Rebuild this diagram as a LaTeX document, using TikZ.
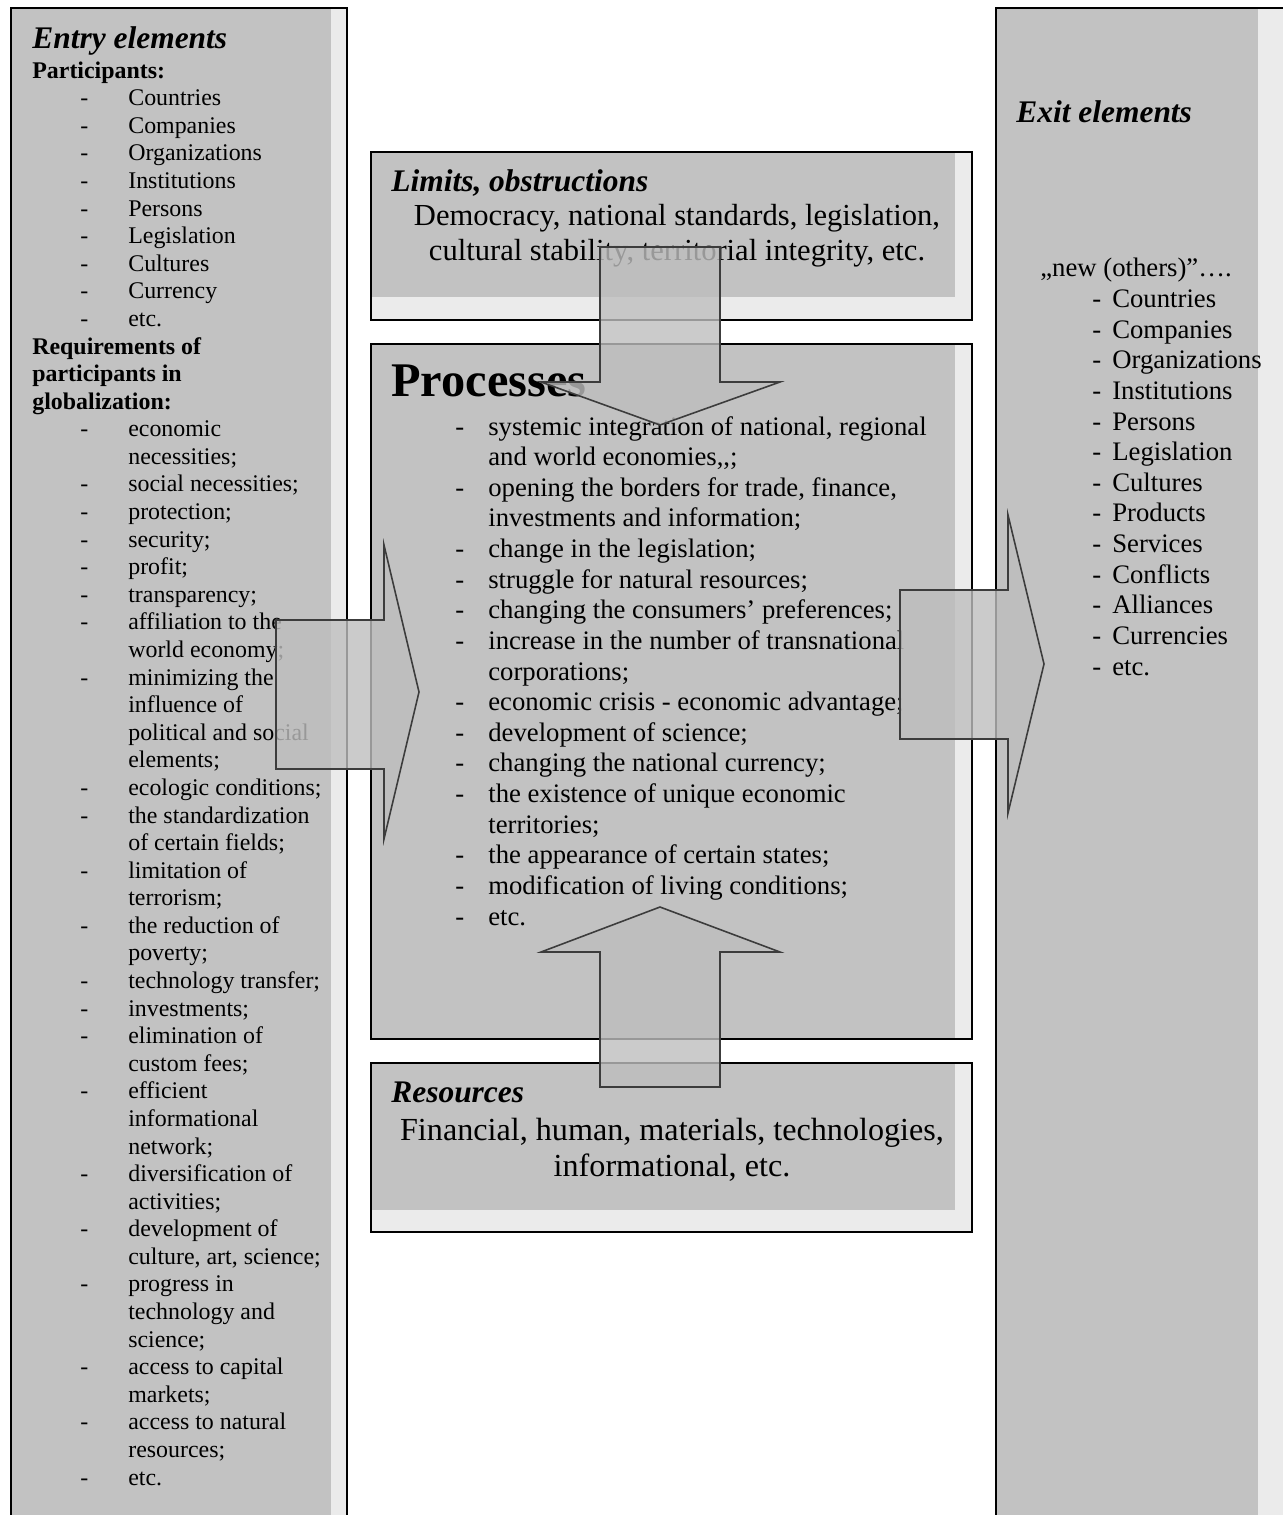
\documentclass[tikz,border=0pt]{standalone}
\usepackage{fontspec}
\setmainfont{Liberation Serif}

\definecolor{panelgray}{HTML}{C2C2C2}
\definecolor{stripgray}{HTML}{EBEBEB}
\definecolor{arrowgray}{HTML}{BEBEBE}
\definecolor{edgegray}{HTML}{3C3C3C}

% list lines: dash + text, and continuation lines
\newcommand{\entryitem}[1]{\hspace*{0.96cm}\makebox[0.96cm][l]{-}#1}
\newcommand{\entrymore}[1]{\hspace*{1.92cm}#1}
\newcommand{\exititem}[1]{\hspace*{1.04cm}\makebox[0.4cm][l]{-}#1}
\newcommand{\procitem}[1]{\makebox[0.66cm][l]{-}#1}
\newcommand{\procmore}[1]{\hspace*{0.66cm}#1}

\begin{document}
\begin{tikzpicture}[x=0.02cm, y=-0.02cm,
    panel/.style={fill=panelgray},
    strip/.style={fill=stripgray},
    frame/.style={draw=black, line width=1.1pt},
    blockarrow/.style={draw=edgegray, line width=0.9pt, fill=arrowgray, fill opacity=0.8, line join=miter},
    title/.style={anchor=base west, inner sep=0pt, font=\fontsize{17.9}{20}\selectfont\bfseries\itshape},
    smalllist/.style={anchor=base west, inner sep=0pt, align=left, font=\fontsize{13.6}{15.7}\selectfont},
    biglist/.style={anchor=base west, inner sep=0pt, align=left, font=\fontsize{15.2}{17.43}\selectfont},
    desc/.style={anchor=base, inner sep=0pt, align=center, font=\fontsize{17.4}{19.6}\selectfont}
]
    \useasboundingbox (0,0) rectangle (1283,1515);

    % Entry column
    \fill[panel] (11,8) rectangle (331,1540);
    \fill[strip] (331,8) rectangle (347,1540);
    \draw[frame] (11,1540) -- (11,8) -- (347,8) -- (347,1540);

    % Exit column
    \fill[panel] (996,8) rectangle (1258,1540);
    \fill[strip] (1258,8) rectangle (1300,1540);
    \draw[frame] (996,1540) -- (996,8) -- (1300,8);

    % Middle boxes
    \fill[strip] (371,152) rectangle (972,320);
    \fill[panel] (371,152) rectangle (955,297);
    \draw[frame] (371,152) rectangle (972,320);

    \fill[strip] (371,344) rectangle (972,1039);
    \fill[panel] (371,344) rectangle (955,1039);
    \draw[frame] (371,344) rectangle (972,1039);

    \fill[strip] (371,1063) rectangle (972,1232);
    \fill[panel] (371,1063) rectangle (955,1210);
    \draw[frame] (371,1063) rectangle (972,1232);

    % Entry texts (multi-line nodes sit on their last baseline)
    \node[title] (entrytitle) at (32,48) {Entry elements};
    \node[smalllist] (entrylist) at (32,1485) {\textbf{Participants:}\\
        \entryitem{Countries}\\
        \entryitem{Companies}\\
        \entryitem{Organizations}\\
        \entryitem{Institutions}\\
        \entryitem{Persons}\\
        \entryitem{Legislation}\\
        \entryitem{Cultures}\\
        \entryitem{Currency}\\
        \entryitem{etc.}\\
        \textbf{Requirements of}\\
        \textbf{participants in}\\
        \textbf{globalization:}\\
        \entryitem{economic}\\
        \entrymore{necessities;}\\
        \entryitem{social necessities;}\\
        \entryitem{protection;}\\
        \entryitem{security;}\\
        \entryitem{profit;}\\
        \entryitem{transparency;}\\
        \entryitem{affiliation to the}\\
        \entrymore{world economy;}\\
        \entryitem{minimizing the}\\
        \entrymore{influence of}\\
        \entrymore{political and social}\\
        \entrymore{elements;}\\
        \entryitem{ecologic conditions;}\\
        \entryitem{the standardization}\\
        \entrymore{of certain fields;}\\
        \entryitem{limitation of}\\
        \entrymore{terrorism;}\\
        \entryitem{the reduction of}\\
        \entrymore{poverty;}\\
        \entryitem{technology transfer;}\\
        \entryitem{investments;}\\
        \entryitem{elimination of}\\
        \entrymore{custom fees;}\\
        \entryitem{efficient}\\
        \entrymore{informational}\\
        \entrymore{network;}\\
        \entryitem{diversification of}\\
        \entrymore{activities;}\\
        \entryitem{development of}\\
        \entrymore{culture, art, science;}\\
        \entryitem{progress in}\\
        \entrymore{technology and}\\
        \entrymore{science;}\\
        \entryitem{access to capital}\\
        \entrymore{markets;}\\
        \entryitem{access to natural}\\
        \entrymore{resources;}\\
        \entryitem{etc.}};

    % Limits texts
    \node[title] (limitstitle) at (391,191) {Limits, obstructions};
    \node[desc] (limitstext) at (677,260) {Democracy, national standards, legislation,\\
        cultural stability, territorial integrity, etc.};

    % Processes texts
    \node[anchor=base west, inner sep=0pt, font=\fontsize{27.5}{30}\selectfont\bfseries] (proctitle) at (391,396) {Processes};
    \node[biglist] (proclist) at (455,925) {\procitem{systemic integration of national, regional}\\
        \procmore{and world economies,\kern0pt,;}\\
        \procitem{opening the borders for trade, finance,}\\
        \procmore{investments and information;}\\
        \procitem{change in the legislation;}\\
        \procitem{struggle for natural resources;}\\
        \procitem{changing the consumers’ preferences;}\\
        \procitem{increase in the number of transnational}\\
        \procmore{corporations;}\\
        \procitem{economic crisis - economic advantage;}\\
        \procitem{development of science;}\\
        \procitem{changing the national currency;}\\
        \procitem{the existence of unique economic}\\
        \procmore{territories;}\\
        \procitem{the appearance of certain states;}\\
        \procitem{modification of living conditions;}\\
        \procitem{etc.}};

    % Resources texts
    \node[title] (restitle) at (391,1102) {Resources};
    \node[desc, font=\fontsize{18.3}{20}\selectfont] (restext) at (672,1176) {Financial, human, materials, technologies,\\
        informational, etc.};

    % Exit texts
    \node[title] (exittitle) at (1016,122) {Exit elements};
    \node[biglist] (exitlist) at (1040,675) {„new (others)”….\\
        \exititem{Countries}\\
        \exititem{Companies}\\
        \exititem{Organizations}\\
        \exititem{Institutions}\\
        \exititem{Persons}\\
        \exititem{Legislation}\\
        \exititem{Cultures}\\
        \exititem{Products}\\
        \exititem{Services}\\
        \exititem{Conflicts}\\
        \exititem{Alliances}\\
        \exititem{Currencies}\\
        \exititem{etc.}};

    % Block arrows
    \draw[blockarrow] (276,620) -- (384,620) -- (384,545) -- (419,692) -- (384,839) -- (384,769) -- (276,769) -- cycle;
    \draw[blockarrow] (900,590) -- (1008,590) -- (1008,515) -- (1044,664) -- (1008,813) -- (1008,739) -- (900,739) -- cycle;
    \draw[blockarrow] (600,247) -- (720,247) -- (720,382) -- (780,382) -- (660,425) -- (541,382) -- (600,382) -- cycle;
    \draw[blockarrow] (600,1087) -- (600,952) -- (541,952) -- (660,907) -- (780,952) -- (720,952) -- (720,1087) -- cycle;

\end{tikzpicture}
\end{document}
